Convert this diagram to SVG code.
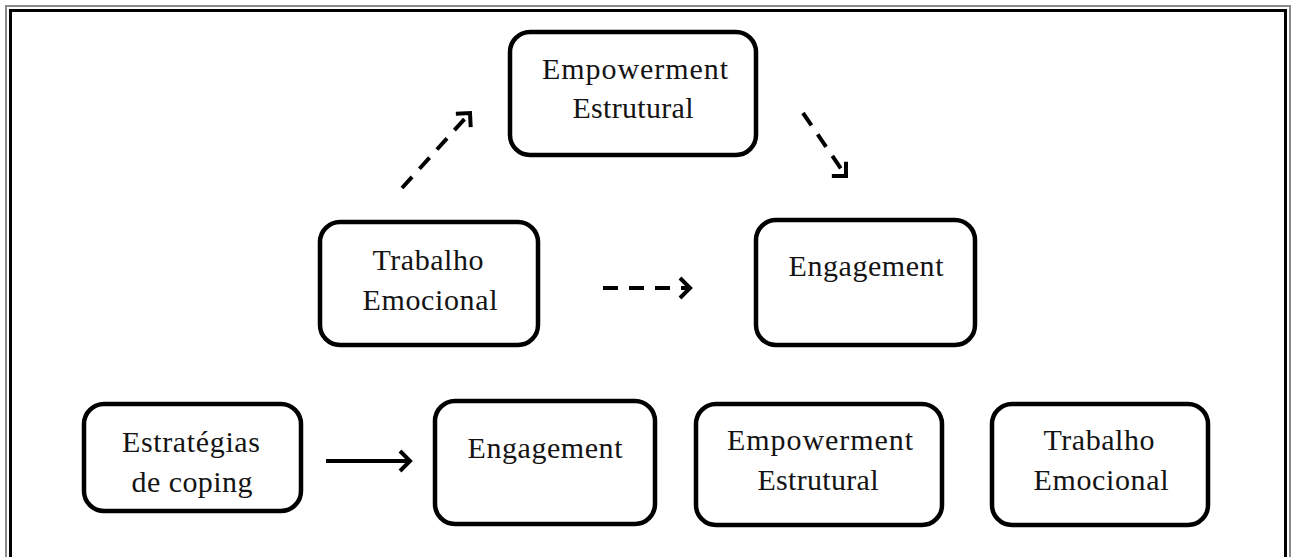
<svg xmlns="http://www.w3.org/2000/svg" width="1296" height="557" viewBox="0 0 1296 557">
<style>
.frame-out{fill:none;stroke:#8a8a8a;stroke-width:2}
.frame-in{fill:none;stroke:#000;stroke-width:3}
.box{fill:#fff;stroke:#000;stroke-width:4.5}
.lbl{font-family:"Liberation Serif","Times New Roman",serif;font-size:30px;fill:#141414;text-anchor:middle}
.conn{fill:none;stroke:#000;stroke-width:4}
.dash{stroke-dasharray:15 11}
.chev{fill:none;stroke:#000;stroke-width:4;stroke-linejoin:miter}
</style>
<defs>
<marker id="chev" markerUnits="userSpaceOnUse" viewBox="-16 -16 22 32" markerWidth="22" markerHeight="32" refX="0" refY="0" orient="auto">
<path class="chev" d="M-10,-10 L0,0 L-10,10"/>
</marker>
<marker id="chev45" markerUnits="userSpaceOnUse" viewBox="-16 -16 22 32" markerWidth="22" markerHeight="32" refX="0" refY="0" orient="45">
<path class="chev" d="M-10,-10 L0,0 L-10,10"/>
</marker>
</defs>
<rect width="1296" height="557" fill="#fff"/>
<rect class="frame-out" x="6" y="6" width="1284" height="600"/>
<rect class="frame-in" x="10.5" y="10.5" width="1275" height="600"/>

<g id="connectors">
<path class="conn dash" d="M402,188 L470,113" marker-end="url(#chev)"/>
<path class="conn dash" d="M803,113 L846,176" marker-end="url(#chev45)"/>
<path class="conn dash" d="M603,288 L690,288" marker-end="url(#chev)"/>
<path class="conn" d="M326,461 L410,461" marker-end="url(#chev)"/>
</g>

<g id="node-empowerment-top">
<rect class="box" x="510" y="32" width="246" height="123" rx="20"/>
<text class="lbl" x="635" y="79" textLength="186" lengthAdjust="spacing">Empowerment</text>
<text class="lbl" x="633" y="118" textLength="121" lengthAdjust="spacing">Estrutural</text>
</g>

<g id="node-trabalho-mid">
<rect class="box" x="320" y="222" width="218" height="123" rx="20"/>
<text class="lbl" x="428" y="270" textLength="111" lengthAdjust="spacing">Trabalho</text>
<text class="lbl" x="430" y="310" textLength="135" lengthAdjust="spacing">Emocional</text>
</g>

<g id="node-engagement-mid">
<rect class="box" x="756" y="220" width="219" height="125" rx="20"/>
<text class="lbl" x="866" y="276" textLength="155" lengthAdjust="spacing">Engagement</text>
</g>

<g id="node-estrategias">
<rect class="box" x="84" y="404" width="217" height="107" rx="20"/>
<text class="lbl" x="191" y="452" textLength="138" lengthAdjust="spacing">Estratégias</text>
<text class="lbl" x="192" y="492" textLength="121" lengthAdjust="spacing">de coping</text>
</g>

<g id="node-engagement-bottom">
<rect class="box" x="435" y="401" width="220" height="123" rx="20"/>
<text class="lbl" x="545" y="458" textLength="155" lengthAdjust="spacing">Engagement</text>
</g>

<g id="node-empowerment-bottom">
<rect class="box" x="696" y="404" width="246" height="121" rx="20"/>
<text class="lbl" x="820" y="450" textLength="186" lengthAdjust="spacing">Empowerment</text>
<text class="lbl" x="818" y="490" textLength="121" lengthAdjust="spacing">Estrutural</text>
</g>

<g id="node-trabalho-bottom">
<rect class="box" x="992" y="404" width="216" height="121" rx="20"/>
<text class="lbl" x="1099" y="450" textLength="111" lengthAdjust="spacing">Trabalho</text>
<text class="lbl" x="1101" y="490" textLength="135" lengthAdjust="spacing">Emocional</text>
</g>
</svg>
